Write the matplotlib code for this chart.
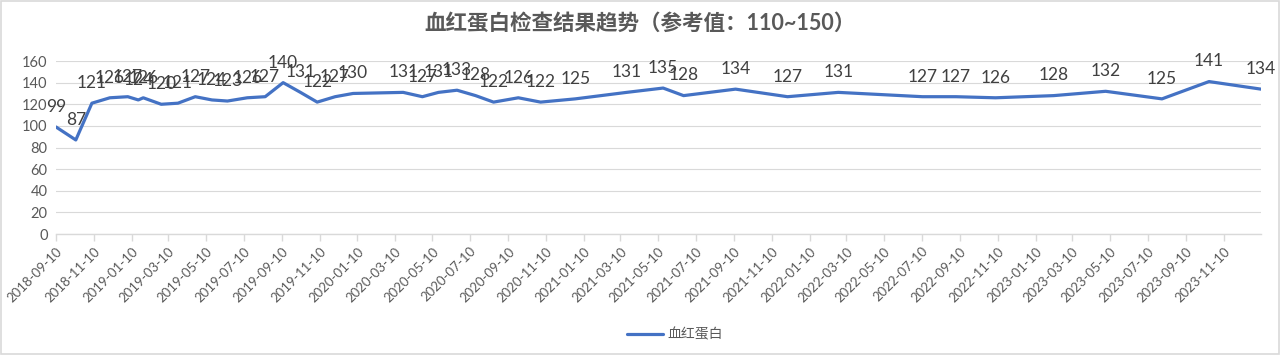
import pandas as pd
import matplotlib.pyplot as plt
import matplotlib.dates as mdates
from matplotlib.patches import Rectangle

plt.rcParams['font.family'] = ['Lato', 'Noto Sans CJK SC', 'DejaVu Sans']

# test dates and hemoglobin results
dates = ['2018-09-10', '2018-10-12', '2018-11-07', '2018-12-06', '2019-01-04', '2019-01-21',
         '2019-01-29', '2019-02-27', '2019-03-26', '2019-04-23', '2019-05-20', '2019-06-14',
         '2019-07-16', '2019-08-14', '2019-09-12', '2019-10-10', '2019-11-06', '2019-12-05',
         '2020-01-03', '2020-03-24', '2020-04-24', '2020-05-20', '2020-06-19', '2020-07-19',
         '2020-08-17', '2020-09-26', '2020-11-01', '2020-12-27', '2021-03-20', '2021-05-18',
         '2021-06-20', '2021-09-12', '2021-12-05', '2022-02-25', '2022-07-11', '2022-09-03',
         '2022-11-06', '2023-02-08', '2023-05-03', '2023-08-02', '2023-10-17', '2024-01-09']
hb = [99, 87, 121, 126, 127, 124, 126, 120, 121, 127, 124, 123, 126, 127, 140, 131, 122, 127,
      130, 131, 127, 131, 133, 128, 122, 126, 122, 125, 131, 135, 128, 134, 127, 131, 127, 127,
      126, 128, 132, 125, 141, 134]
# x ticks every two months: 2018-09-10 ... 2023-11-10
tick_dates = pd.date_range('2018-09-10', periods=32, freq=pd.DateOffset(months=2))
y_ticks = [0, 20, 40, 60, 80, 100, 120, 140, 160]

title = '血红蛋白检查结果趋势（参考值：110~150）'
series_name = '血红蛋白'

x = pd.to_datetime(dates)
grey = '#595959'

fig = plt.figure(figsize=(12.8, 3.55), dpi=100)
ax = fig.add_axes([0.04375, 0.3408, 0.9414, 0.4873])

ax.plot(x, hb, color='#4472C4', lw=2.3, label=series_name, solid_capstyle='round', zorder=3)
for xi, v in zip(x, hb):
    ax.annotate(str(v), (xi, v), xytext=(0, 14.5), textcoords='offset points',
                ha='center', va='center', fontsize=12.5, color='#404040')

ax.set_xlim(x[0], x[-1])
ax.set_ylim(0, 160)
ax.set_yticks(y_ticks)
ax.yaxis.grid(True, color='#D9D9D9', lw=0.8)
ax.set_axisbelow(True)
for s in ['left', 'right', 'top']:
    ax.spines[s].set_visible(False)
ax.spines['bottom'].set_color('#D9D9D9')
ax.spines['bottom'].set_linewidth(1.0)

ax.set_xticks(tick_dates)
ax.xaxis.set_major_formatter(mdates.DateFormatter('%Y-%m-%d'))
plt.setp(ax.get_xticklabels(), rotation=45, ha='right', rotation_mode='anchor')
ax.tick_params(axis='x', colors='#D9D9D9', length=5, width=1.0, labelcolor=grey, labelsize=9.5, pad=3)
ax.tick_params(axis='y', length=0, labelcolor=grey, labelsize=10.5, pad=6)

fig.text(0.5, 0.935, title, ha='center', va='center', fontsize=15.5, fontweight='bold', color=grey)
fig.legend(loc='center', bbox_to_anchor=(0.527, 0.06), frameon=False, fontsize=10,
           labelcolor=grey, handlelength=2.6, handletextpad=0.3)

fig.patches.append(Rectangle((0.001, 0.003), 0.998, 0.994, transform=fig.transFigure,
                             fill=False, edgecolor='#D9D9D9', lw=1.2))

fig.savefig('out.png', dpi=100)
